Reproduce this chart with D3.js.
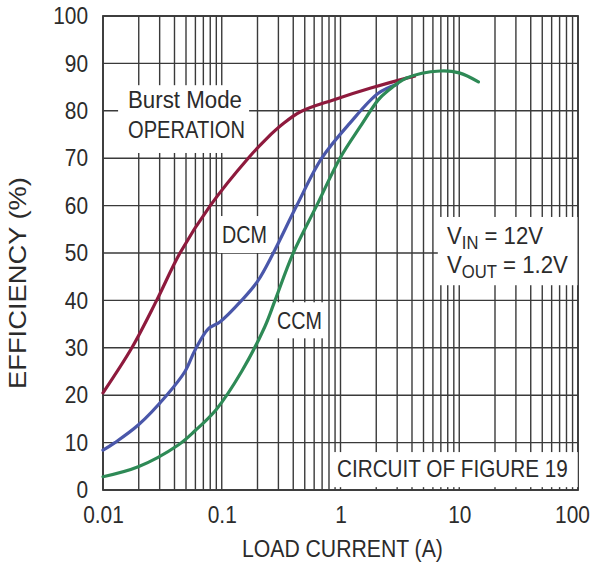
<!DOCTYPE html>
<html>
<head>
<meta charset="utf-8">
<script src="https://cdn.jsdelivr.net/npm/d3@7"></script>
<style>
  html, body { margin: 0; padding: 0; background: #fff; }
  svg text { font-family: "Liberation Sans", Arial, sans-serif; fill: #2b2b2b; }
</style>
</head>
<body>
<svg id="chart" width="598" height="564"></svg>
<script>
// Efficiency vs load current, three operating modes
const burstCurrent = [0.01, 0.0175, 0.0283, 0.0445, 0.08, 0.167, 0.24, 0.33, 0.46, 0.87, 1.8, 3.6, 4.2];
const burstEff     = [20.5, 30, 40, 50, 60, 70, 74.2, 77.3, 79.8, 82.3, 84.8, 86.9, 87.3];

const dcmCurrent = [0.01, 0.0126, 0.0198, 0.0344, 0.049, 0.0595, 0.077, 0.097, 0.147, 0.2, 0.272, 0.428, 0.695, 1.2, 2.08, 3.0];
const dcmEff     = [8.4, 10, 13.7, 20, 25, 29.5, 34, 35.5, 40, 44, 50, 60, 70, 77.4, 83.7, 85.6];

const ccmCurrent = [0.01, 0.0198, 0.043, 0.0595, 0.09, 0.147, 0.231, 0.281, 0.4, 0.63, 0.99, 1.46, 2.08, 2.45, 3.6, 6.9, 10, 14.5];
const ccmEff     = [2.8, 4.9, 9.5, 12.5, 17, 25, 34.5, 40, 50, 60, 70, 76.6, 82.3, 84, 86.9, 88.4, 88, 86.1];

const xTicks = [0.01, 0.1, 1, 10, 100];
const xTickLabels = ["0.01", "0.1", "1", "10", "100"];
const yTicks = [0, 10, 20, 30, 40, 50, 60, 70, 80, 90, 100];

const svg = d3.select("#chart");
const margin = { left: 103, top: 16, right: 20, bottom: 74 };
const W = 598, H = 564;

const x = d3.scaleLog().domain([0.01, 100]).range([margin.left, W - margin.right]);
const y = d3.scaleLinear().domain([0, 100]).range([H - margin.bottom, margin.top]);

// Narrow lettering for tick labels: compress glyphs in place
function squeezeTicks(sel, factor) {
  sel.each(function () {
    const w = this.getComputedTextLength();
    d3.select(this).attr("textLength", w * factor).attr("lengthAdjust", "spacingAndGlyphs");
  });
}

// Narrow lettering for free labels: horizontal scale so the text spans `width`
function label(parent, px, py, width, rotate) {
  const t = parent.append("text");
  t.fit = function () {
    const w = t.node().getComputedTextLength();
    const s = width / w;
    t.attr("transform", `translate(${px},${py})${rotate ? ` rotate(${rotate})` : ""} scale(${s},1)`);
    return t;
  };
  return t;
}

// Grid: every integer multiple within each decade, every 10% vertically
const minor = [];
for (let d = 0.01; d < 100; d *= 10) {
  for (let k = 1; k <= 9; k++) minor.push(+(d * k).toPrecision(3));
}
minor.push(100);

const grid = svg.append("g").attr("stroke", "#3a3a3a").attr("stroke-width", 1.4);
grid.selectAll("line.v").data(minor).join("line")
  .attr("x1", d => x(d)).attr("x2", d => x(d))
  .attr("y1", y(0)).attr("y2", y(100));
grid.selectAll("line.h").data(yTicks).join("line")
  .attr("x1", x(0.01)).attr("x2", x(100))
  .attr("y1", d => y(d)).attr("y2", d => y(d));

svg.append("rect")
  .attr("x", x(0.01)).attr("y", y(100))
  .attr("width", x(100) - x(0.01)).attr("height", y(0) - y(100))
  .attr("fill", "none").attr("stroke", "#3a3a3a").attr("stroke-width", 1.8);

// Axes (labels only; the grid draws the lines)
const xAxis = d3.axisBottom(x).tickValues(xTicks)
  .tickFormat((d, i) => xTickLabels[i]).tickSize(0).tickPadding(16);
const gx = svg.append("g").attr("transform", `translate(0,${y(0)})`).call(xAxis);
gx.select(".domain").remove();
gx.selectAll("text").attr("font-size", 24).attr("fill", "#2b2b2b")
  .attr("dx", (d, i) => i === xTicks.length - 1 ? -6 : 0);

const yAxis = d3.axisLeft(y).tickValues(yTicks).tickSize(0).tickPadding(15);
const gy = svg.append("g").attr("transform", `translate(${x(0.01)},0)`).call(yAxis);
gy.select(".domain").remove();
gy.selectAll("text").attr("font-size", 24).attr("fill", "#2b2b2b");
svg.selectAll(".tick text")
  .style("font-family", "\"Liberation Sans\", Arial, sans-serif")
  .call(squeezeTicks, 0.87);

// Annotation boxes mask the grid behind their text
const boxes = [
  { x0: 0.0134, x1: 0.17,  y0: 85.4, y1: 71.1 },
  { x0: 0.092,  x1: 0.26,  y0: 57.8, y1: 50.0 },
  { x0: 0.26,   x1: 0.75,  y0: 39.6, y1: 32.0 },
  { x0: 6.6,    x1: 99,    y0: 57.6, y1: 43.2 },
  { x0: 0.86,   x1: 99.5,  y0: 8.0,  y1: 0.6 }
];
svg.append("g").selectAll("rect").data(boxes).join("rect")
  .attr("x", d => x(d.x0)).attr("y", d => y(d.y0))
  .attr("width", d => x(d.x1) - x(d.x0)).attr("height", d => y(d.y1) - y(d.y0))
  .attr("fill", "#fff");

// Curves
const line = d3.line().x(d => x(d[0])).y(d => y(d[1])).curve(d3.curveCatmullRom.alpha(0.5));
const series = [
  { c: burstCurrent, e: burstEff, color: "#8e1a3d" },
  { c: dcmCurrent,   e: dcmEff,   color: "#4a57aa" },
  { c: ccmCurrent,   e: ccmEff,   color: "#2e8a56" }
];
svg.append("g").selectAll("path").data(series).join("path")
  .attr("d", s => line(s.c.map((c, i) => [c, s.e[i]])))
  .attr("fill", "none").attr("stroke", s => s.color)
  .attr("stroke-width", 3.2).attr("stroke-linecap", "round");

// Text annotations
const ann = svg.append("g").attr("font-size", 24);
label(ann, 128, 108, 114).text("Burst Mode").fit();
label(ann, 128, 138, 117).text("OPERATION").fit();
label(ann, 222, 243, 45).text("DCM").fit();
label(ann, 277, 329, 45).text("CCM").fit();

const vin = label(ann, 447, 244, 96);
vin.append("tspan").text("V");
vin.append("tspan").attr("font-size", 18).attr("dy", 5).text("IN");
vin.append("tspan").attr("dy", -5).text(" = 12V");
vin.fit();
const vout = label(ann, 447, 273, 121);
vout.append("tspan").text("V");
vout.append("tspan").attr("font-size", 18).attr("dy", 5).text("OUT");
vout.append("tspan").attr("dy", -5).text(" = 1.2V");
vout.fit();

label(ann, 337, 477, 231).text("CIRCUIT OF FIGURE 19").fit();

// Axis titles
const titles = svg.append("g").attr("font-size", 24);
label(titles, 242, 557, 201).text("LOAD CURRENT (A)").fit();
label(titles, 26, 389, 212, -90).text("EFFICIENCY (%)").fit();
</script>
</body>
</html>
